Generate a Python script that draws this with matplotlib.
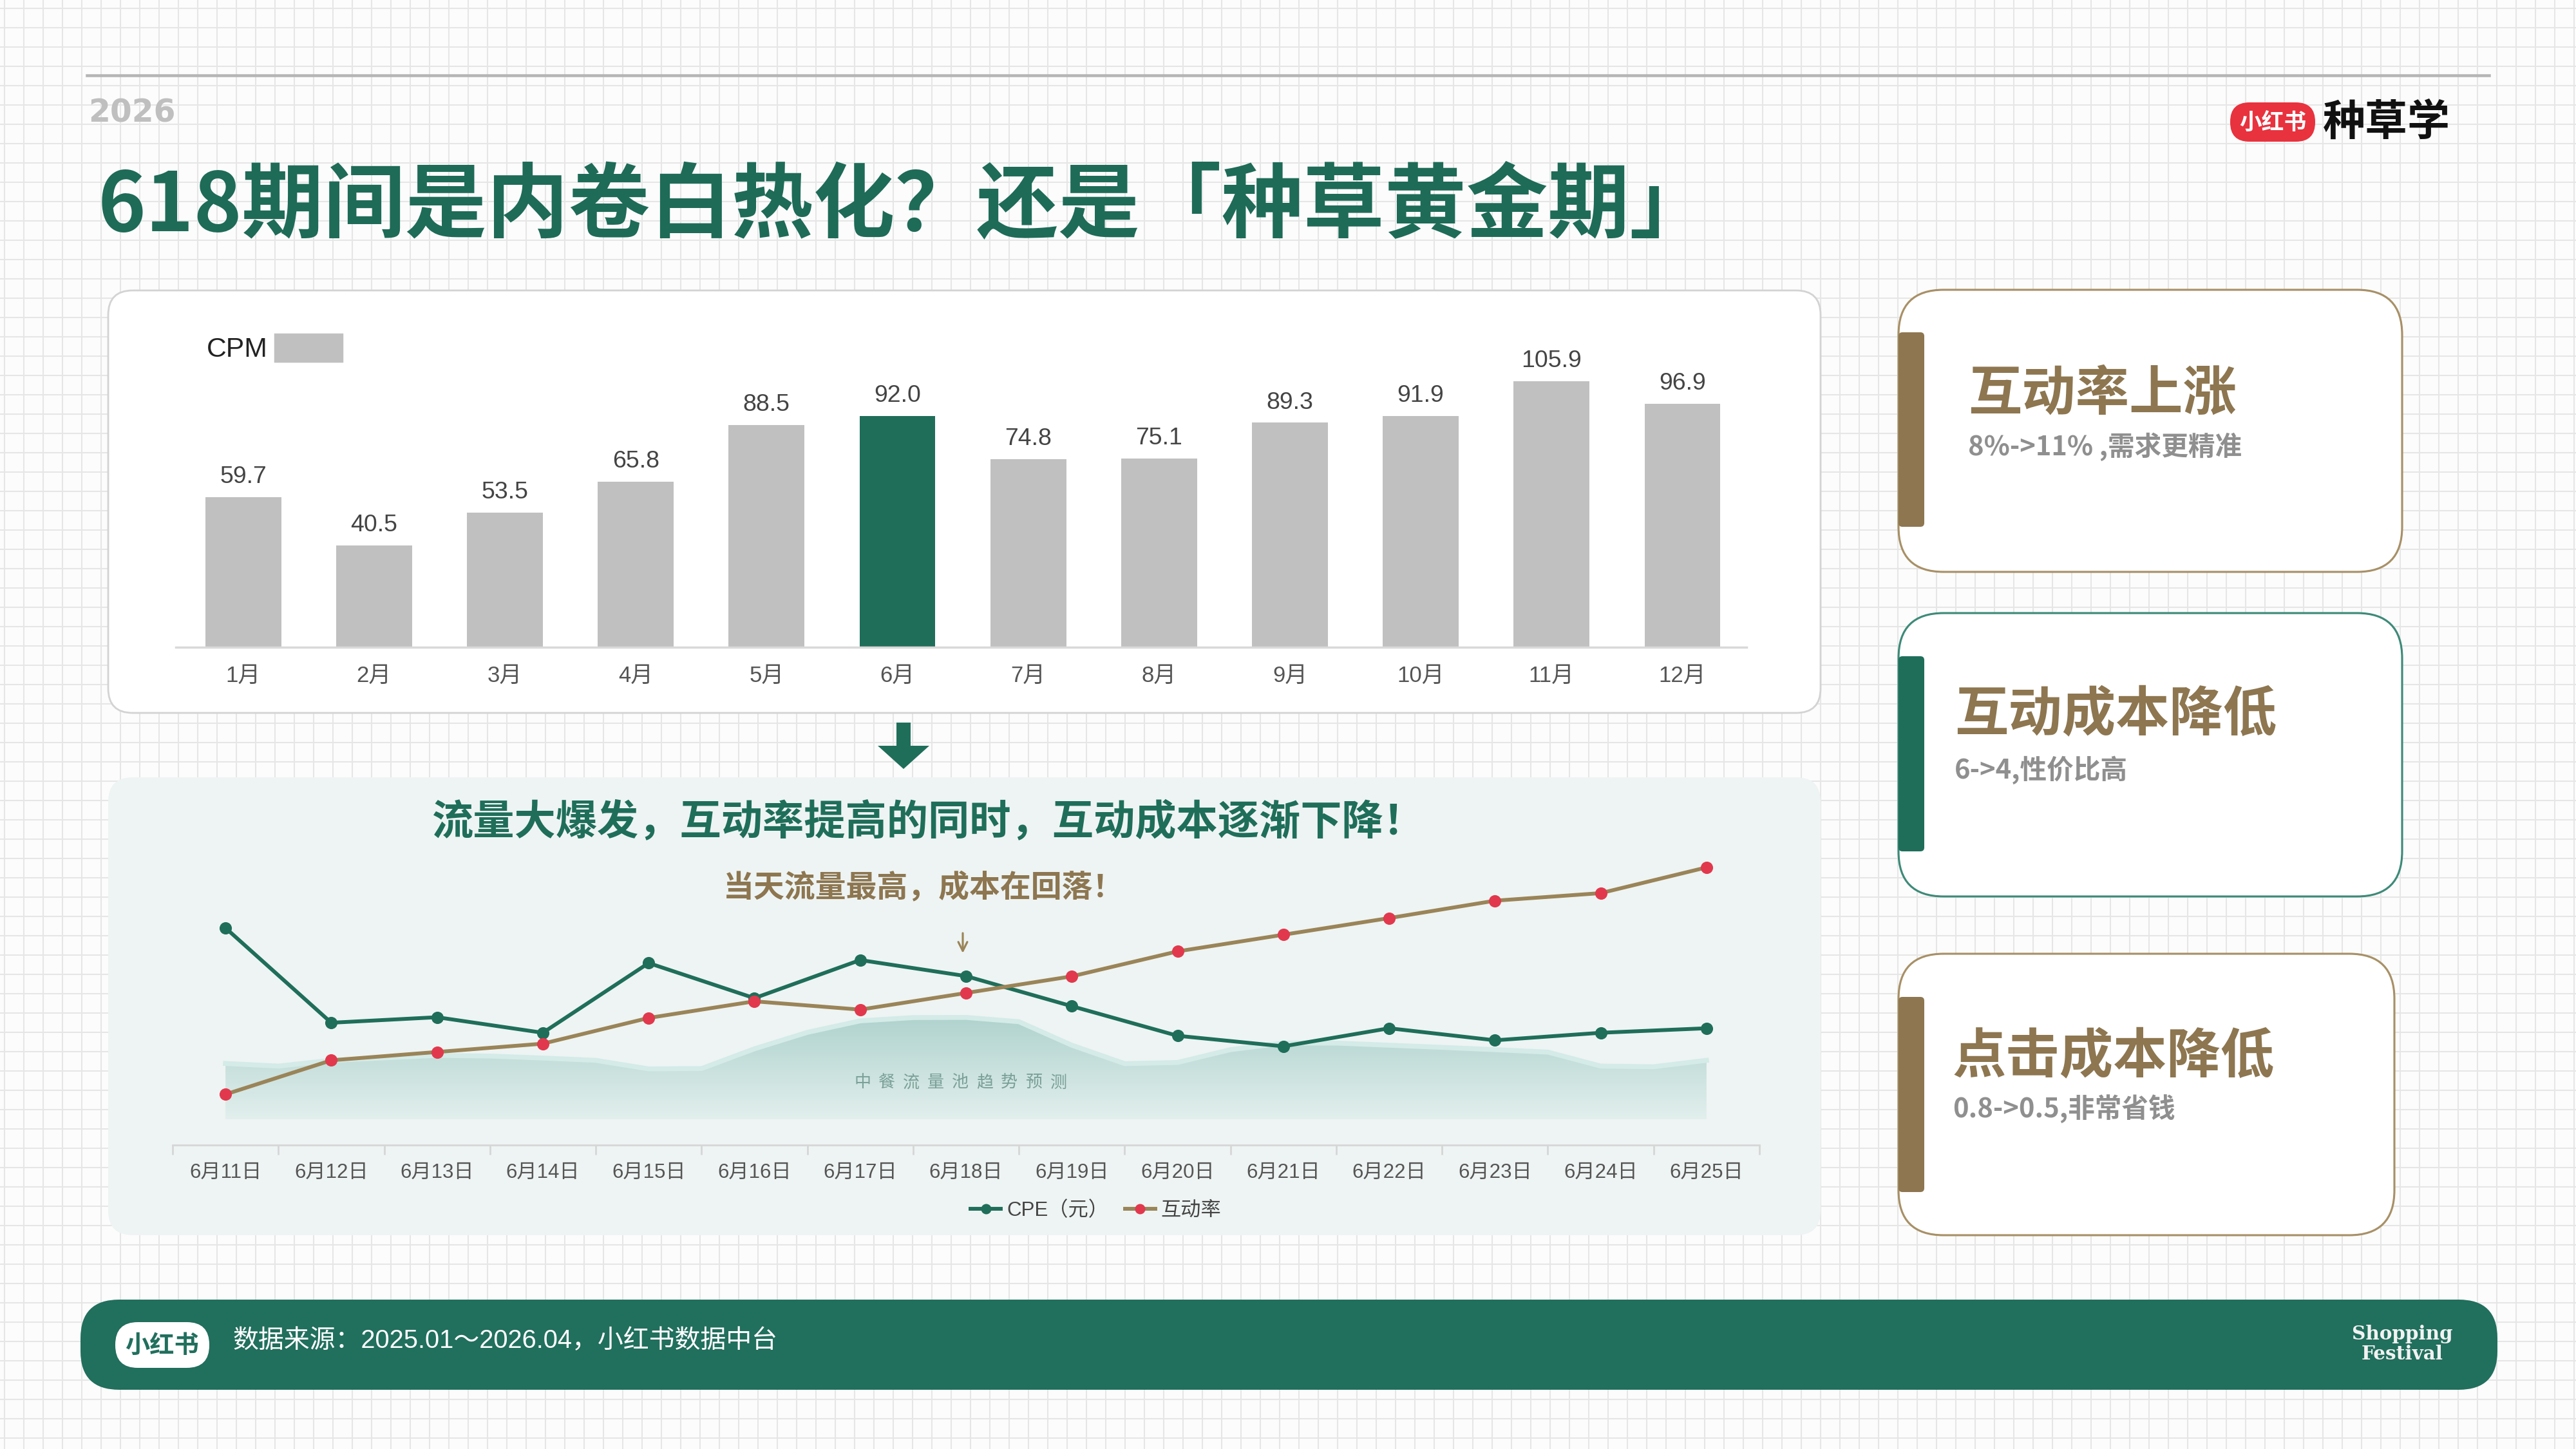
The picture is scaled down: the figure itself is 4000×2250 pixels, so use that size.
import numpy as np
import matplotlib
matplotlib.use('Agg')
import matplotlib.pyplot as plt
from matplotlib.patches import FancyBboxPatch, Polygon, Patch
from matplotlib.colors import LinearSegmentedColormap

plt.rcParams['font.family'] = ['Liberation Sans', 'Noto Sans CJK SC']
CJK = ['Noto Sans CJK SC', 'DejaVu Sans']

# ---- 数据 ----
months = ['1月', '2月', '3月', '4月', '5月', '6月', '7月', '8月', '9月', '10月', '11月', '12月']
cpm = [59.7, 40.5, 53.5, 65.8, 88.5, 92.0, 74.8, 75.1, 89.3, 91.9, 105.9, 96.9]
highlight_month = '6月'

days = ['6月11日', '6月12日', '6月13日', '6月14日', '6月15日', '6月16日', '6月17日', '6月18日',
        '6月19日', '6月20日', '6月21日', '6月22日', '6月23日', '6月24日', '6月25日']
cpe = [6.00, 4.11, 4.22, 3.91, 5.30, 4.60, 5.36, 5.04, 4.44, 3.85, 3.64, 4.00, 3.76, 3.91, 4.00]
rate = [8.00, 8.45, 8.56, 8.67, 9.01, 9.23, 9.12, 9.34, 9.56, 9.89, 10.11, 10.33, 10.56, 10.66, 11.00]
# 中餐流量池趋势预测，每半天一个读数（相对指数）
trend = [34.1, 32.5, 36.0, 37.5, 39.0, 38.6, 37.4, 36.0, 30.8, 31.0, 43.0, 53.0, 60.0, 62.0, 62.1,
         59.5, 45.2, 34.0, 34.7, 42.5, 46.5, 46.5, 45.2, 43.9, 42.5, 41.0, 32.5, 32.1, 36.0]

card_titles = ['互动率上涨', '互动成本降低', '点击成本降低']
card_notes = ['8%->11% ,需求更精准', '6->4,性价比高', '0.8->0.5,非常省钱']

GREEN = '#1f6e5a'
BROWN = '#8d7650'
GRAY_BAR = '#c0c0c0'

W, H = 4000, 2250
fig = plt.figure(figsize=(16, 9), dpi=250, facecolor='#fcfcfc')

# 背景层，按像素坐标绘制
bg = fig.add_axes([0, 0, 1, 1])
bg.set_xlim(0, W)
bg.set_ylim(H, 0)
bg.axis('off')
bg.vlines(np.arange(7, W, 30), 0, H, color='#e6e6e6', lw=0.6, zorder=0)
bg.hlines(np.arange(13, H, 30), 0, W, color='#e6e6e6', lw=0.6, zorder=0)


def rbox(x0, y0, x1, y1, r, **kw):
    bg.add_patch(FancyBboxPatch((x0, y0), x1 - x0, y1 - y0,
                                boxstyle=f'round,pad=0,rounding_size={r}', **kw))


# 顶部
bg.plot([135, 3865], [117, 117], color='#b5b5b5', lw=1.3, zorder=2)
bg.text(137, 176, '2026', family='DejaVu Sans', fontweight='bold', fontsize=14,
        color='#bfbfbf', ha='left', va='center', zorder=3)
bg.text(152, 322, '618期间是内卷白热化？还是「种草黄金期」', family=CJK, fontweight='heavy',
        fontsize=36.5, color='#1e6b57', ha='left', va='center', zorder=3)
rbox(3463, 159, 3595, 220, 30, fc='#e8323e', ec='none', zorder=2)
bg.text(3529, 190, '小红书', family=CJK, fontweight='bold', fontsize=10, color='white',
        ha='center', va='center', zorder=3)
bg.text(3607, 190, '种草学', family=CJK, fontweight='bold', fontsize=19, color='#111111',
        ha='left', va='center', zorder=3)

# 面板
rbox(168, 451, 2827, 1107, 38, fc='white', ec='#d3d3d3', lw=0.8, zorder=1)
rbox(168, 1207, 2827, 1918, 38, fc='#eef4f3', ec='none', zorder=1)

# 大箭头
bg.add_patch(Polygon([[1392, 1122], [1414, 1122], [1414, 1158], [1443, 1158], [1403, 1194],
                      [1363, 1158], [1392, 1158]], closed=True, fc=GREEN, ec='none', zorder=2))

bg.text(1441, 1277, '流量大爆发，互动率提高的同时，互动成本逐渐下降！', family=CJK,
        fontweight='bold', fontsize=18.5, color=GREEN, ha='center', va='center', zorder=3)
bg.text(1434, 1378, '当天流量最高，成本在回落！', family=CJK, fontweight='bold',
        fontsize=13.8, color=BROWN, ha='center', va='center', zorder=3)
bg.annotate('', xy=(1495, 1487), xytext=(1495, 1442),
            arrowprops=dict(arrowstyle='->', color='#9a8458', lw=0.9), zorder=3)

# 右侧卡片
cards = [(2948, 450, 3730, 888, 516, 818, BROWN, '#a89066', 3056, 612, 694),
         (2948, 952, 3730, 1392, 1019, 1322, GREEN, '#3d8a78', 3035, 1110, 1196),
         (2948, 1481, 3718, 1918, 1548, 1851, BROWN, '#a89066', 3032, 1641, 1722)]
for (x0, y0, x1, y1, a0, a1, acc, edge, tx, ty, sy), t, n in zip(cards, card_titles, card_notes):
    rbox(x0, y0, x1, y1, 70, fc='white', ec=edge, lw=0.9, zorder=1)
    rbox(x0, a0, x0 + 40, a1, 6, fc=acc, ec='none', zorder=2)
    bg.text(tx, ty, t, family=CJK, fontweight='bold', fontsize=24, color=BROWN,
            ha='left', va='center', zorder=3)
    bg.text(tx, sy, n, family=CJK, fontweight='bold', fontsize=12, color='#8f8f8f',
            ha='left', va='center', zorder=3)

# 底栏
rbox(125, 2018, 3878, 2158, 60, fc='#216f5d', ec='none', zorder=1)
rbox(179, 2053, 325, 2124, 35, fc='white', ec='none', zorder=2)
bg.text(252, 2089, '小红书', family=CJK, fontweight='bold', fontsize=11, color='#216f5d',
        ha='center', va='center', zorder=3)
bg.text(361, 2082, '数据来源：2025.01～2026.04，小红书数据中台',
        family=['Liberation Sans', 'Noto Sans CJK SC'], fontsize=11.5, color='white',
        ha='left', va='center', zorder=3)
bg.text(3730, 2087, 'Shopping\nFestival', family='DejaVu Serif', fontweight='bold',
        fontsize=8.5, color='#f2f2f2', ha='center', va='center', linespacing=1.05, zorder=3)

# ---- 柱状图 CPM ----
axb = fig.add_axes([273 / W, 1 - 1005 / H, (2712 - 273) / W, 505 / H])
axb.patch.set_alpha(0)
colors = [GREEN if m == highlight_month else GRAY_BAR for m in months]
bars = axb.bar(range(len(months)), cpm, width=0.58, color=colors, zorder=2)
axb.bar_label(bars, fmt='%.1f', padding=4, fontsize=10.8, color='#444444')
axb.set_xlim(-0.515, len(months) - 0.51)
axb.set_ylim(0, 129.4)
axb.set_xticks(range(len(months)), months)
axb.tick_params(axis='x', length=0, pad=8, labelsize=10, colors='#555555')
axb.set_yticks([])
for s in ['top', 'right', 'left']:
    axb.spines[s].set_visible(False)
axb.spines['bottom'].set_color('#d9d9d9')
axb.spines['bottom'].set_linewidth(1)
fig.legend(handles=[Patch(color=GRAY_BAR, label='CPM')], loc='center left',
           bbox_to_anchor=(321 / W, 1 - 541 / H), frameon=False, markerfirst=False,
           fontsize=12.3, handlelength=2.45, handleheight=1.15, handletextpad=0.25,
           borderpad=0, borderaxespad=0, labelcolor='#222222')

# ---- 折线图 ----
axa = fig.add_axes([268 / W, 1 - 1778 / H, (2732 - 268) / W, 452 / H])
axa.patch.set_alpha(0)
pos = np.arange(len(trend)) / 2
poly = axa.fill_between(pos, 0, trend, facecolor='none', edgecolor='none')
grad = np.linspace(0, 1, 256).reshape(-1, 1)
cmap = LinearSegmentedColormap.from_list('trend', ['#e2efed', '#b0d3ce'])
im = axa.imshow(grad, extent=[pos[0], pos[-1], 0, max(trend)], origin='lower',
                aspect='auto', cmap=cmap, zorder=1)
im.set_clip_path(poly.get_paths()[0], transform=axa.transData)
axa.plot(pos, trend, color='#d4ebe8', lw=2.2, zorder=2)
label = '中餐流量池趋势预测'
for i, ch in enumerate(label):
    axa.text(6.02 + i * 0.231, 22.5, ch, family=CJK, fontsize=7.5, color='#7aa096',
             ha='center', va='center', zorder=3)
axa.set_xlim(-0.5, len(days) - 0.5)
axa.set_ylim(-15.5, 161.5)
axa.set_xticks(range(len(days)), days)
axa.set_xticks(np.arange(-0.5, len(days)), minor=True)
axa.tick_params(axis='x', which='major', length=0, pad=8, labelsize=9, colors='#555555')
axa.tick_params(axis='x', which='minor', length=4.4, width=0.8, color='#d6d6d6')
axa.set_yticks([])
for s in ['top', 'right', 'left']:
    axa.spines[s].set_visible(False)
axa.spines['bottom'].set_color('#d6d6d6')

axc = axa.twinx()
lc, = axc.plot(range(len(days)), cpe, color=GREEN, lw=1.7, marker='o', markersize=4.5,
               label='CPE（元）')
axc.set_ylim(1.672, 7.475)

axr = axa.twinx()
lr, = axr.plot(range(len(days)), rate, color='#9a8458', lw=1.7, marker='o', markersize=4.5,
               markerfacecolor='#e2384d', markeredgecolor='#e2384d', label='互动率')
axr.set_ylim(7.33, 11.178)

for ax in (axc, axr):
    ax.set_yticks([])
    for s in ax.spines.values():
        s.set_visible(False)

fig.legend(handles=[lc, lr], loc='center', bbox_to_anchor=(1702 / W, 1 - 1880 / H), ncol=2,
           frameon=False, fontsize=9, handlelength=1.5, handletextpad=0.3,
           columnspacing=0.8, labelcolor='#444444', markerscale=0.8)

fig.savefig('out.png', dpi=250, facecolor=fig.get_facecolor())
